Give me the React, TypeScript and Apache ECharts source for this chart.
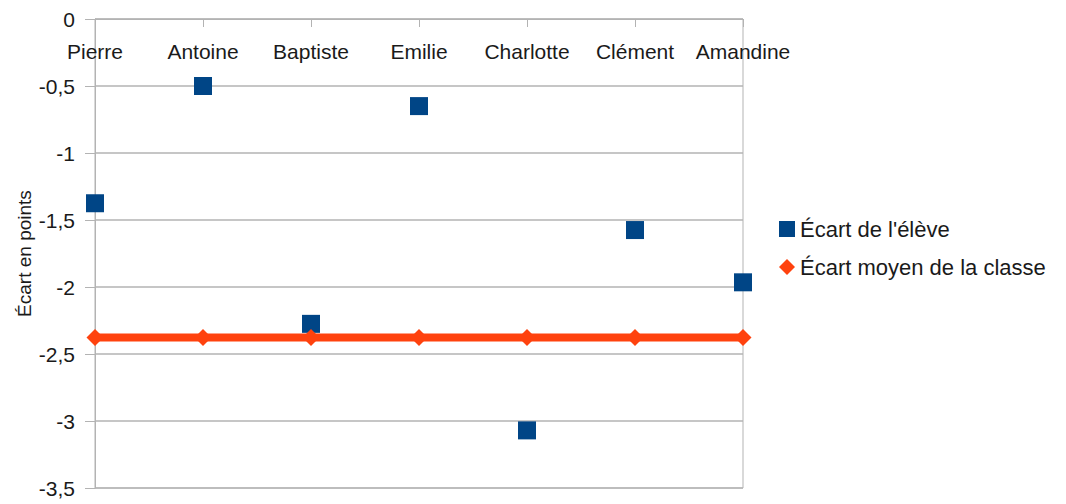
import React, { useEffect, useRef } from "react";
import * as echarts from "echarts";

const categories = ["Pierre", "Antoine", "Baptiste", "Emilie", "Charlotte", "Clément", "Amandine"];
const ecartEleve = [-1.375, -0.5, -2.275, -0.65, -3.07, -1.575, -1.965];
const ecartMoyen = [-2.377, -2.377, -2.377, -2.377, -2.377, -2.377, -2.377];
const seriesNames = ["Écart de l'élève", "Écart moyen de la classe"];
const yTitle = "Écart en points";

const FONT = "Liberation Sans, Arial, sans-serif";
const GRID = "#b3b3b3";
const TEXT = "#1a1a1a";

export default function App() {
  const ref = useRef<HTMLDivElement>(null);
  useEffect(() => {
    if (!ref.current) return;
    const chart = echarts.init(ref.current, undefined, { renderer: "svg" });
    chart.setOption({
      animation: false,
      backgroundColor: "#ffffff",
      textStyle: { fontFamily: FONT },
      grid: {
        left: 95,
        right: 323,
        top: 19,
        bottom: 16,
        show: true,
        borderColor: GRID,
        borderWidth: 1,
        containLabel: false,
        outerBoundsMode: "none",
      },
      legend: {
        orient: "vertical",
        left: 774,
        top: 213,
        itemGap: 16,
        itemWidth: 16,
        itemHeight: 16,
        textStyle: { fontFamily: FONT, fontSize: 22, color: TEXT },
        data: [
          { name: seriesNames[0], icon: "rect" },
          { name: seriesNames[1], icon: "diamond" },
        ],
      },
      xAxis: {
        type: "category",
        data: categories,
        boundaryGap: false,
        position: "top",
        axisLine: { onZero: false, lineStyle: { color: GRID, width: 1 } },
        axisTick: { show: true, inside: true, length: 8, lineStyle: { color: GRID } },
        axisLabel: {
          inside: true,
          fontFamily: FONT,
          fontSize: 21,
          color: TEXT,
          margin: 22,
          interval: 0,
        },
        splitLine: { show: false },
      },
      yAxis: {
        type: "value",
        min: -3.5,
        max: 0,
        interval: 0.5,
        name: yTitle,
        nameLocation: "middle",
        nameGap: 61,
        nameMoveOverlap: false,
        nameRotate: 90,
        nameTextStyle: { fontFamily: FONT, fontSize: 19, color: TEXT },
        axisLine: { show: true, lineStyle: { color: GRID, width: 1 } },
        axisTick: { show: true, length: 10, lineStyle: { color: GRID } },
        axisLabel: {
          fontFamily: FONT,
          fontSize: 21,
          color: TEXT,
          margin: 20,
          formatter: (v: number) => String(v).replace(".", ","),
        },
        splitLine: { show: true, lineStyle: { color: GRID, width: 1.5 } },
      },
      series: [
        {
          name: seriesNames[0],
          type: "scatter",
          data: ecartEleve,
          symbol: "rect",
          symbolSize: 18,
          itemStyle: { color: "#004586", opacity: 1 },
          z: 3,
        },
        {
          name: seriesNames[1],
          type: "line",
          data: ecartMoyen,
          symbol: "diamond",
          symbolSize: 17,
          showAllSymbol: true,
          lineStyle: { color: "#ff420e", width: 8 },
          itemStyle: { color: "#ff420e", opacity: 1 },
          z: 4,
        },
      ],
    });
    return () => chart.dispose();
  }, []);
  return <div ref={ref} style={{ width: 1066, height: 504, position: "absolute", left: 0, top: 0 }} />;
}
